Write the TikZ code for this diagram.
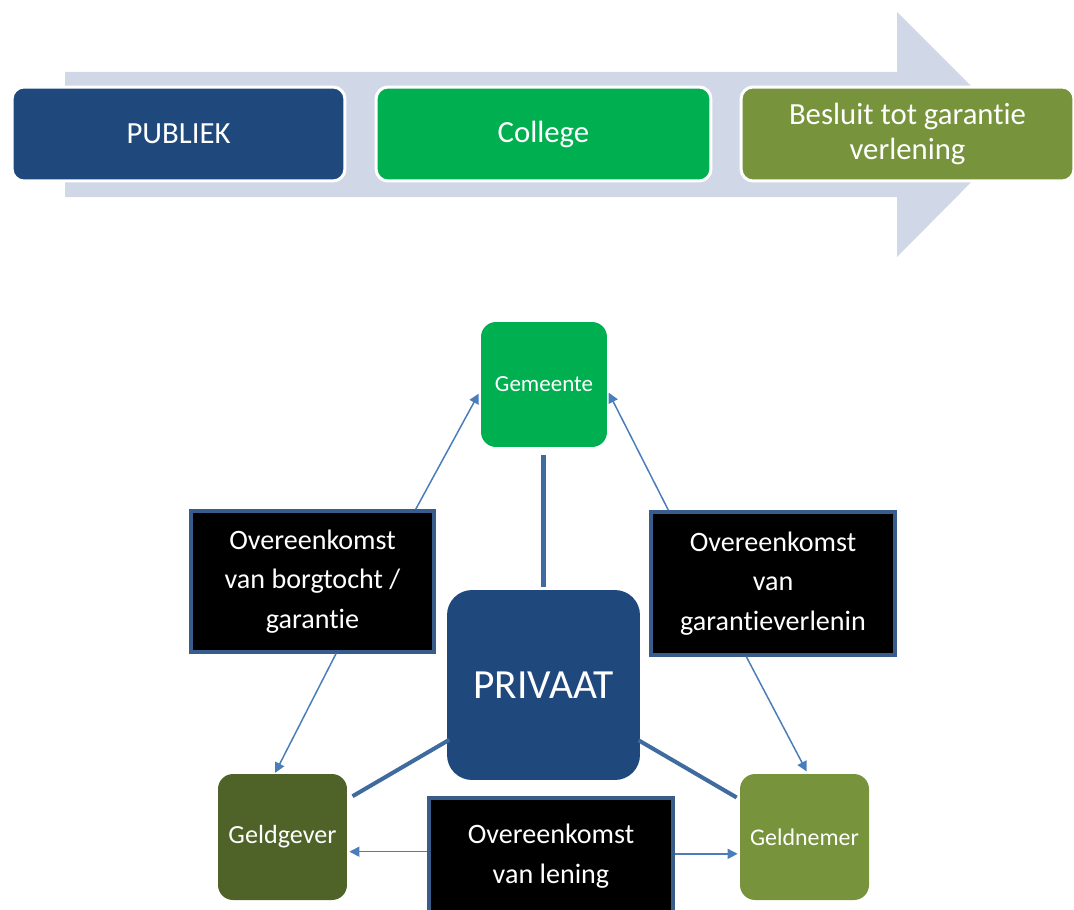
\documentclass[tikz,border=0pt]{standalone}
\usepackage{fontspec}
\setmainfont[Ligatures=NoCommon]{Carlito}
\usetikzlibrary{arrows.meta}
\definecolor{darkblue}{HTML}{1F497D}
\definecolor{brightgreen}{HTML}{00B050}
\definecolor{olive}{HTML}{77933C}
\definecolor{darkolive}{HTML}{4F6228}
\definecolor{arrowgray}{HTML}{D0D8E8}
\definecolor{linkblue}{HTML}{4A7EBB}
\definecolor{framblue}{HTML}{385D8A}
\begin{document}
\begin{tikzpicture}
    [x=0.02cm, y=-0.02cm,
    stage/.style = {rectangle, rounded corners=0.24cm, draw=white, line width=1.7pt,
                    minimum width=6.66cm, minimum height=1.88cm, text=white, align=center,
                    font=\fontsize{17.5}{19.8}\selectfont},
    party/.style = {rectangle, rounded corners=0.3cm, text=white, align=center,
                    minimum width=2.58cm, minimum height=2.52cm},
    deal/.style = {rectangle, fill=black, draw=framblue, line width=2pt, text=white,
                   align=center, minimum width=4.86cm, minimum height=2.82cm,
                   font=\fontsize{16}{22.4}\selectfont},
    bond/.style = {draw=linkblue!85!black, line width=2.3pt},
    link/.style = {draw=linkblue, line width=0.85pt, -{Triangle[length=0.2cm,width=0.2cm]}}]
    \useasboundingbox (0,0) rectangle (1074,909);
    \clip (0,0) rectangle (1074,909);
    \fill[arrowgray] (65,72) -- (897,72) -- (897,12) -- (1019,134) -- (897,257)
        -- (897,197) -- (65,197) -- cycle;
    \node[stage, fill=darkblue] (publiek) at (178.5,134) {PUBLIEK};
    \node[stage, fill=brightgreen, minimum width=6.7cm] (college) at (543.5,134) {College};
    \node[stage, fill=olive] (besluit) at (907.5,134) {Besluit tot garantie\\verlening};
    \node[party, fill=brightgreen, minimum width=2.52cm, minimum height=2.5cm,
          font=\fontsize{13.1}{15}\selectfont] (gemeente) at (544,384.5) {Gemeente};
    \node[party, fill=darkblue, rounded corners=0.5cm, minimum width=3.86cm, minimum height=3.8cm,
          font=\fontsize{23.6}{28}\selectfont] (privaat) at (543.5,685) {PRIVAAT};
    \node[party, fill=darkolive, font=\fontsize{14.9}{17}\selectfont] (geldgever) at (282.5,837) {Geldgever};
    \node[party, fill=olive, font=\fontsize{13.6}{16}\selectfont] (geldnemer) at (804.5,837) {Geldnemer};
    \node[deal] (borgtocht) at (312.5,581.5) {Overeenkomst\\van borgtocht /\\garantie};
    \node[deal, minimum width=4.88cm, minimum height=2.86cm] (garantie) at (773,583.5)
        {Overeenkomst\\van\\garantieverlenin};
    \node[deal, minimum width=4.88cm, minimum height=2.32cm] (lening) at (551,856)
        {Overeenkomst\\van lening};
    \draw[bond, shorten <=0.16cm, shorten >=0.06cm] (gemeente.south -| privaat) -- (privaat);
    \draw[bond, shorten <=-0.06cm, shorten >=0.12cm] (privaat) -- (geldgever);
    \draw[bond, shorten <=-0.04cm, shorten >=0.07cm] (privaat) -- (geldnemer);
    \draw[link, shorten >=0.08cm] (borgtocht.35) -- (gemeente.185);
    \draw[link, shorten >=0.06cm] (garantie.145) -- (gemeente.-5);
    \draw[link, shorten >=0.02cm] (borgtocht.-72) -- (geldgever.97);
    \draw[link, shorten >=0.05cm] (garantie.-110) -- (geldnemer.87);
    \draw[link, shorten >=0.04cm] (lening.178) -- (lening.178 -| geldgever.east);
    \draw[link, shorten >=0.04cm] (lening.1) -- (lening.1 -| geldnemer.west);
\end{tikzpicture}
\end{document}
